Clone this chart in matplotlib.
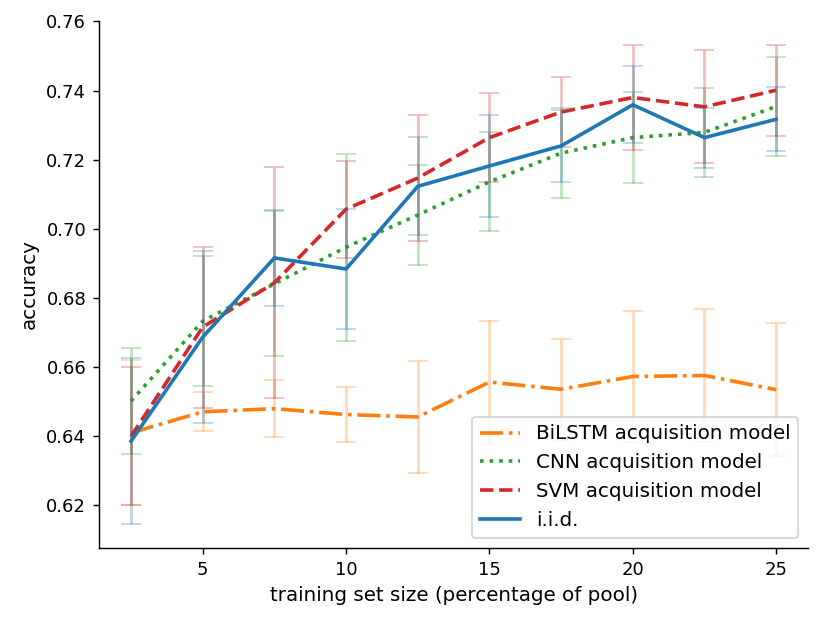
import numpy as np
from matplotlib import pyplot as plt

# training set size (percentage of pool)
sizes = [2.5, 5, 7.5, 10, 12.5, 15, 17.5, 20, 22.5, 25]

# 平均 accuracy
bilstm_mean = [0.641, 0.6471, 0.6480, 0.6463, 0.6456, 0.6557, 0.6536, 0.6573, 0.6576, 0.6535]
cnn_mean    = [0.6502, 0.6733, 0.6841, 0.6947, 0.7040, 0.7136, 0.7219, 0.7264, 0.7279, 0.7354]
svm_mean    = [0.6400, 0.6716, 0.6844, 0.7057, 0.7147, 0.7264, 0.7338, 0.7380, 0.7353, 0.7401]
iid_mean    = [0.6386, 0.6687, 0.6916, 0.6884, 0.7123, 0.7182, 0.7240, 0.7359, 0.7264, 0.7317]

# 標準偏差
bilstm_std = [0.021, 0.0057, 0.0082, 0.0080, 0.0162, 0.0178, 0.0146, 0.0190, 0.0193, 0.0193]
cnn_std    = [0.0153, 0.0188, 0.0210, 0.0270, 0.0144, 0.0143, 0.0130, 0.0132, 0.0128, 0.0143]
svm_std    = [0.0200, 0.0233, 0.0334, 0.0140, 0.0182, 0.0128, 0.0102, 0.0153, 0.0163, 0.0132]
iid_std    = [0.0240, 0.0249, 0.0140, 0.0174, 0.0142, 0.0148, 0.0104, 0.0111, 0.0087, 0.0092]

series = [
    ("BiLSTM acquisition model", bilstm_mean, bilstm_std, "C1", "-."),
    ("CNN acquisition model", cnn_mean, cnn_std, "C2", ":"),
    ("SVM acquisition model", svm_mean, svm_std, "C3", "--"),
    ("i.i.d.", iid_mean, iid_std, "C0", "-"),
]

fig = plt.figure(figsize=(830 / 130, 625 / 130), dpi=130)
ax = fig.add_subplot(111)
fig.subplots_adjust(left=0.119, right=0.974, bottom=0.123, top=0.967)

for label, mean, std, color, ls in series:
    ax.errorbar(sizes, mean, yerr=std, fmt="none", ecolor=color, alpha=0.3, capsize=5.5)
    ax.plot(sizes, mean, color=color, linestyle=ls, linewidth=2, label=label)

ax.spines["top"].set_visible(False)
ax.spines["right"].set_visible(False)
ax.set_xlabel("training set size (percentage of pool)", fontsize=11)
ax.set_ylabel("accuracy", fontsize=11)
ax.legend(loc="lower right", fontsize=11)

plt.savefig("out.png", dpi=130)
